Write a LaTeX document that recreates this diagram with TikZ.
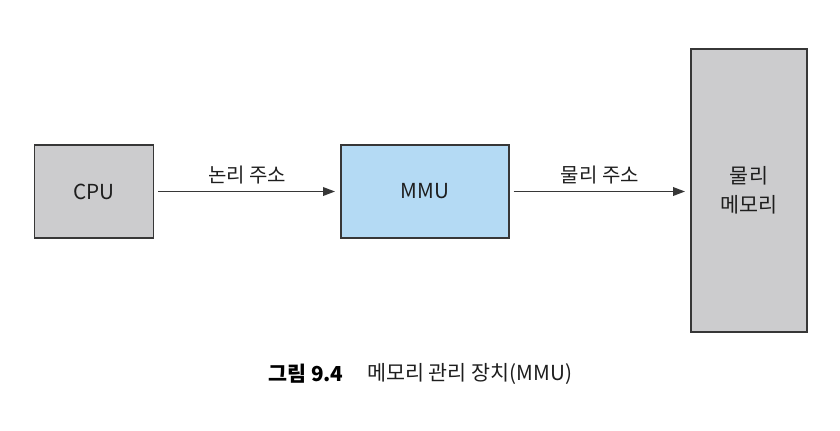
\documentclass[tikz,border=0pt]{standalone}
\usepackage{fontspec}
\setmainfont{Noto Sans CJK KR}
\usetikzlibrary{arrows.meta}
\definecolor{boxgray}{RGB}{204,204,206}
\definecolor{boxblue}{RGB}{180,218,244}
\definecolor{edge}{RGB}{55,55,55}
\definecolor{txt}{RGB}{30,30,30}
\tikzset{
  unitbox/.style={draw=edge, line width=1.1pt, inner sep=0pt, outer sep=0pt, text=txt, font=\fontsize{15.5}{22}\selectfont, align=center},
  flow/.style={draw=edge, line width=1.1pt, -{Triangle[length=9pt,width=6.5pt]}, shorten <=3.5pt, shorten >=4.5pt},
  lbl/.style={text=txt, font=\fontsize{15}{18}\selectfont, inner sep=0pt}
}
\begin{document}
\begin{tikzpicture}[x=0.75pt,y=-0.75pt]
\useasboundingbox[fill=white] (0,0) rectangle (840,430);
\node[unitbox, fill=boxgray, minimum width=89pt, minimum height=70pt] (cpu) at (94,191.5) {CPU};
\node[unitbox, fill=boxblue, minimum width=126pt, minimum height=70pt] (mmu) at (425,191.5) {MMU};
\node[unitbox, fill=boxgray, minimum width=87pt, minimum height=212pt] (mem) at (749,190.5) {물리\\메모리};
\draw[flow] (cpu) -- node[lbl, midway, yshift=12.5pt] (l1) {논리 주소} (mmu);
\draw[flow] (mmu.east |- cpu.east) -- node[lbl, midway, yshift=12.5pt] (l2) {물리 주소} (mem.west |- cpu.east);
\node[anchor=west, inner sep=0pt, text=black, font=\fontsize{15.5}{18}\selectfont\bfseries] (cap1) at (268,374) {그림 9.4};
\node[anchor=west, inner sep=0pt, text=txt, font=\fontsize{15.5}{18}\selectfont] (cap2) at (367,374) {메모리 관리 장치(MMU)};
\end{tikzpicture}
\end{document}
